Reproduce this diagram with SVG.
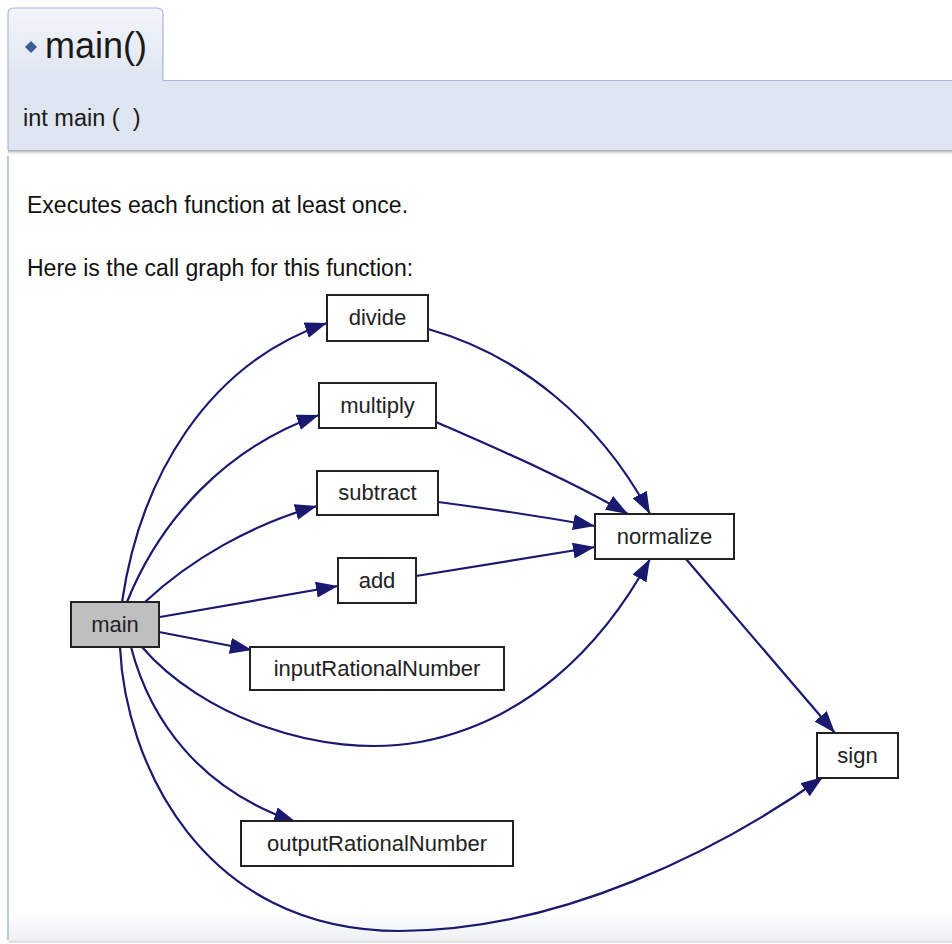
<svg xmlns="http://www.w3.org/2000/svg" width="952" height="944" viewBox="0 0 952 944">
<defs>
<style>
.hdr{font-family:"Liberation Sans",Arial,sans-serif;fill:#1a1a1a}
.doc{font-family:"Liberation Sans",Arial,sans-serif;font-size:23px;fill:#111}
.box{fill:#fff;stroke:#222;stroke-width:2}
.lbl{font-family:"Liberation Sans",Arial,sans-serif;font-size:22px;fill:#222;text-anchor:middle}
.edge{fill:none;stroke:#191970;stroke-width:2.2;marker-end:url(#arr)}
</style>
<linearGradient id="tabg" x1="0" y1="0" x2="0" y2="1">
<stop offset="0" stop-color="#f3f5fa"/>
<stop offset="1" stop-color="#dfe5f1"/>
</linearGradient>
<linearGradient id="botg" x1="0" y1="0" x2="0" y2="1">
<stop offset="0" stop-color="#ffffff"/>
<stop offset="1" stop-color="#eceef1"/>
</linearGradient>
<linearGradient id="shad" x1="0" y1="0" x2="0" y2="1">
<stop offset="0" stop-color="#9aa0a8"/>
<stop offset="1" stop-color="#ffffff" stop-opacity="0"/>
</linearGradient>
<marker id="arr" markerUnits="userSpaceOnUse" markerWidth="24" markerHeight="18" refX="22" refY="8" orient="auto">
<path d="M0,0 L22,8 L0,16 z" fill="#191970"/>
</marker>
</defs>
<rect width="952" height="944" fill="#fff"/>
<g id="header">
<path d="M8,80 V14 Q8,8 14,8 H157 Q163,8 163,14 V80" fill="url(#tabg)" stroke="#a7b6d6" stroke-width="1.2"/>
<rect x="8" y="80" width="950" height="70" fill="#dfe5f1"/>
<line x1="163" y1="80.5" x2="952" y2="80.5" stroke="#a7b6d6" stroke-width="1.2"/>
<line x1="8" y1="80" x2="8" y2="150" stroke="#a7b6d6" stroke-width="1.2"/>
<rect x="8" y="150" width="944" height="6" fill="url(#shad)"/>
<path d="M25,47 L31,41 L37,47 L31,53 z" fill="#3d5a99"/>
<text class="hdr" x="45" y="58" font-size="36">main()</text>
<text class="hdr" x="23" y="126" font-size="23.5" xml:space="preserve">int main (  )</text>
</g>
<g id="body">
<line x1="8" y1="156" x2="8" y2="940" stroke="#a7b6d6" stroke-width="1.5"/>
<rect x="9" y="913" width="943" height="29" fill="url(#botg)"/>
<line x1="8" y1="942" x2="952" y2="942" stroke="#c9ccd2" stroke-width="1.2"/>
<text class="doc" x="27" y="213">Executes each function at least once.</text>
<text class="doc" x="27" y="276">Here is the call graph for this function:</text>
</g>
<g id="connectors">
<path class="edge" d="M122,602 C140,480 205,365 327,323"/>
<path class="edge" d="M127,602 C160,520 225,448 319,415"/>
<path class="edge" d="M145,602 C190,560 250,525 317,506"/>
<path class="edge" d="M160,617 C220,606 280,596 338,586"/>
<path class="edge" d="M159,632 L252,650"/>
<path class="edge" d="M142,647 C200,715 320,760 420,742 C525,722 600,650 650,559"/>
<path class="edge" d="M131,647 C150,720 200,790 296,822"/>
<path class="edge" d="M120,647 C125,760 200,931 400,931 C560,931 720,850 823,777"/>
<path class="edge" d="M428,329 C520,355 600,420 650,514"/>
<path class="edge" d="M436,422 C500,450 570,480 628,514"/>
<path class="edge" d="M438,502 C500,510 550,518 595,526"/>
<path class="edge" d="M416,576 C480,566 540,556 595,547"/>
<path class="edge" d="M686,559 L835,733"/>
</g>
<g id="node-main"><rect x="71" y="602" width="88" height="45" fill="#bfbfbf" stroke="#222" stroke-width="2"/><text class="lbl" x="115" y="632">main</text></g>
<g id="node-divide"><rect class="box" x="327" y="295" width="101" height="46"/><text class="lbl" x="377.5" y="325">divide</text></g>
<g id="node-multiply"><rect class="box" x="319" y="383" width="117" height="45"/><text class="lbl" x="377.5" y="413">multiply</text></g>
<g id="node-subtract"><rect class="box" x="317" y="471" width="121" height="44"/><text class="lbl" x="377.5" y="500">subtract</text></g>
<g id="node-add"><rect class="box" x="338" y="558" width="78" height="45"/><text class="lbl" x="377" y="588">add</text></g>
<g id="node-inputRationalNumber"><rect class="box" x="250" y="647" width="254" height="43"/><text class="lbl" x="377" y="676">inputRationalNumber</text></g>
<g id="node-outputRationalNumber"><rect class="box" x="241" y="821" width="272" height="45"/><text class="lbl" x="377" y="851">outputRationalNumber</text></g>
<g id="node-normalize"><rect class="box" x="595" y="514" width="139" height="45"/><text class="lbl" x="664.5" y="544">normalize</text></g>
<g id="node-sign"><rect class="box" x="817" y="733" width="81" height="45"/><text class="lbl" x="857.5" y="763">sign</text></g>
</svg>
